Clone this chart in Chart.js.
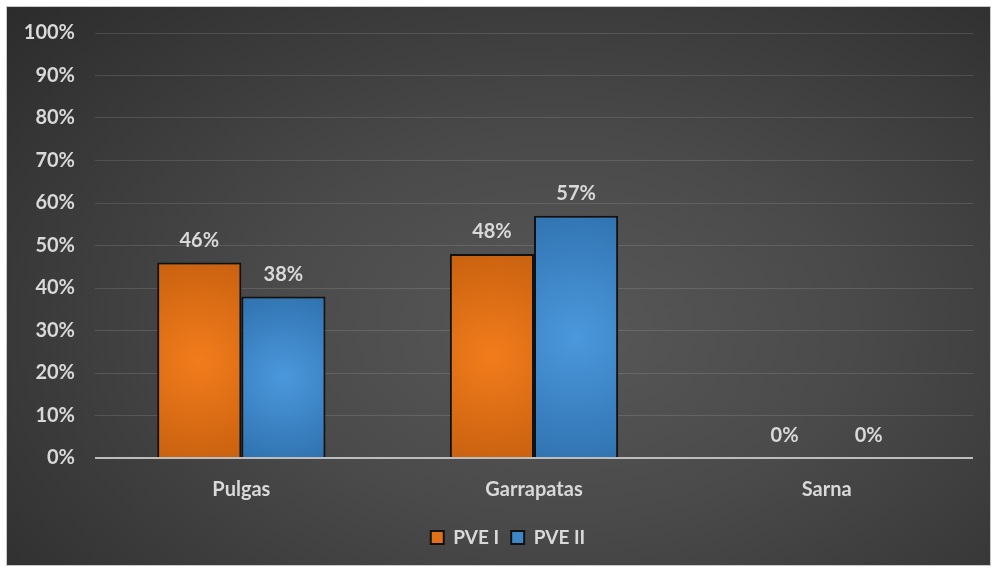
<!DOCTYPE html>
<html><head><meta charset="utf-8">
<script src="https://cdn.jsdelivr.net/npm/chart.js@4/dist/chart.umd.min.js"></script>
<style>
html,body{margin:0;padding:0;background:#fff;width:994px;height:570px;overflow:hidden}
#wrap{position:absolute;left:6px;top:6px;width:983px;height:558px;border:1px solid #c8c8c8;
background:radial-gradient(ellipse 75% 85% at 56% 58%, #585858 0%, #4a4a4a 40%, #2c2c2c 100%);}
canvas{display:block}
</style></head><body>
<div id="wrap"><canvas id="c" width="983" height="558"></canvas></div>
<script>
const categories = ["Pulgas", "Garrapatas", "Sarna"];
const seriesNames = ["PVE I", "PVE II"];
const pve1 = [46, 48, 0];
const pve2 = [38, 57, 0];
const yTicks = [0,10,20,30,40,50,60,70,80,90,100];

const FONT = "Lato, 'Open Sans', sans-serif";
const TXT = "#d9d9d9";
const solid = ["#e0701a", "#3d86c8"];
const glow = [["#f27c1c","#c45e0e"],["#4b98dc","#2d6eab"]];
const CAT_PCT = 0.575;

function barFill(ctx){
  const chart = ctx.chart, ds = ctx.datasetIndex;
  const xs = chart.scales.x, ys = chart.scales.y;
  if (!xs || !ys || !chart.chartArea || ctx.dataIndex === undefined) return solid[ds];
  const catW = chart.chartArea.width / categories.length;
  const bw = catW * CAT_PCT / 2;
  const cx = xs.getPixelForValue(ctx.dataIndex) + (ds === 0 ? -bw/2 : bw/2);
  const v = ctx.raw || 0;
  const top = ys.getPixelForValue(v), base = ys.getPixelForValue(0);
  const cy = (top + base) / 2;
  const r = Math.max(bw, base - top) * 0.6 + 1;
  const g = chart.ctx.createRadialGradient(cx, cy, 0, cx, cy, r);
  g.addColorStop(0, glow[ds][0]);
  g.addColorStop(1, glow[ds][1]);
  return g;
}

const labelPlugin = {
  id: 'vlabels',
  afterLayout(chart){
    if (chart.legend) { chart.legend.left += 18; chart.legend.right += 18; }
  },
  afterDatasetsDraw(chart){
    const c = chart.ctx;
    c.save();
    c.font = "bold 20px " + FONT;
    c.fillStyle = TXT;
    c.textAlign = "center";
    c.textBaseline = "middle";
    chart.data.datasets.forEach((d, i) => {
      chart.getDatasetMeta(i).data.forEach((el, j) => {
        c.fillText(d.data[j] + "%", el.x, el.y - 22);
      });
    });
    c.restore();
  }
};

new Chart(document.getElementById('c'), {
  type: 'bar',
  data: {
    labels: categories,
    datasets: [
      {label: seriesNames[0], data: pve1, backgroundColor: barFill, borderColor: "#111", borderWidth: 2, borderSkipped: 'bottom', categoryPercentage: CAT_PCT, barPercentage: 1},
      {label: seriesNames[1], data: pve2, backgroundColor: barFill, borderColor: "#111", borderWidth: 2, borderSkipped: 'bottom', categoryPercentage: CAT_PCT, barPercentage: 1}
    ]
  },
  options: {
    responsive: false,
    animation: false,
    layout: {padding: {left: 0, right: 17, top: 26, bottom: 8}},
    plugins: {
      tooltip: {enabled: false},
      legend: {
        position: 'bottom',
        labels: {
          color: TXT, font: {family: FONT, size: 19, weight: 'bold'},
          boxWidth: 13, boxHeight: 13, padding: 12,
          generateLabels(chart){
            return chart.data.datasets.map((d, i) => ({
              text: d.label, fillStyle: solid[i], strokeStyle: "#111", lineWidth: 2,
              fontColor: TXT, datasetIndex: i, hidden: false
            }));
          }
        }
      }
    },
    scales: {
      x: {
        grid: {display: false}, border: {display: false},
        ticks: {color: TXT, font: {family: FONT, size: 20, weight: 'bold'}, padding: 12},
        afterFit(s){ s.height = 58; }
      },
      y: {
        min: 0, max: 100,
        afterBuildTicks(s){ s.ticks = yTicks.map(v => ({value: v})); },
        border: {display: false},
        grid: {
          drawTicks: false,
          color: c => c.tick && c.tick.value === 0 ? "#bdbdbd" : "rgba(255,255,255,0.12)",
          lineWidth: c => c.tick && c.tick.value === 0 ? 2 : 1
        },
        ticks: {color: TXT, font: {family: FONT, size: 20, weight: 'bold'}, padding: 20, callback: v => v + "%"},
        afterFit(s){ s.width = 88; s.paddingTop = 5; s.paddingBottom = 5; }
      }
    }
  },
  plugins: [labelPlugin]
});
</script>
</body></html>
